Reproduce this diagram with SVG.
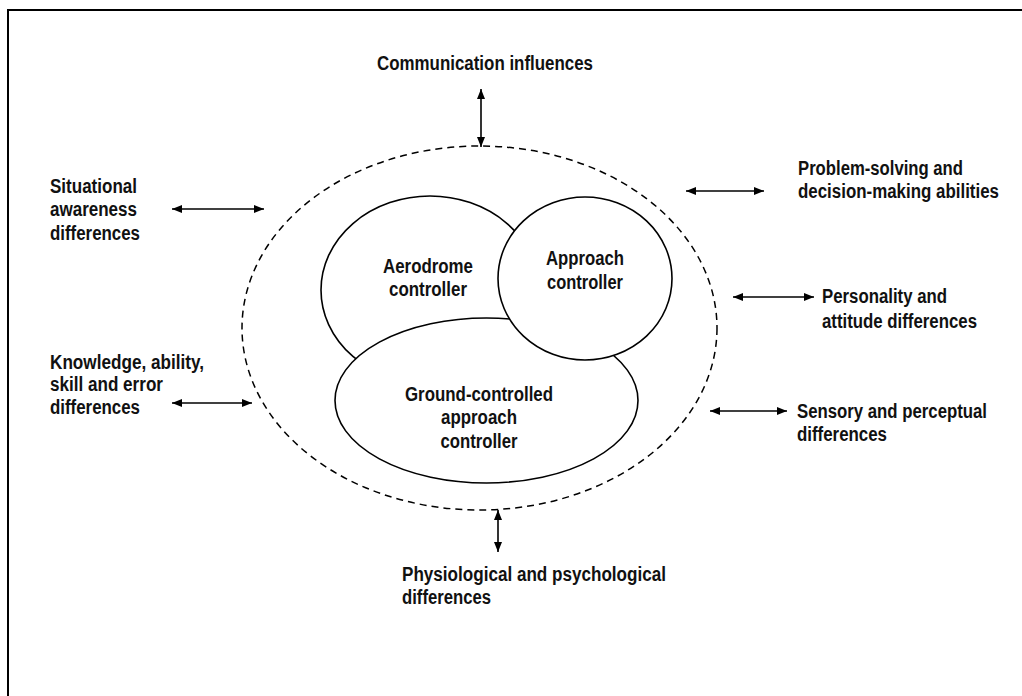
<svg xmlns="http://www.w3.org/2000/svg" width="1022" height="696" viewBox="0 0 1022 696">
<style>
text{font-family:"Liberation Sans",Arial,sans-serif;font-weight:bold;font-size:20px;fill:#111}
.c{text-anchor:middle}
.shape{fill:#fff;stroke:#000;stroke-width:1.6}
.dash{fill:none;stroke:#000;stroke-width:1.5;stroke-dasharray:7 5}
.arr{stroke:#000;stroke-width:1.6;fill:none;marker-start:url(#ah);marker-end:url(#ah)}
</style>
<defs>
<marker id="ah" viewBox="0 0 10 8" refX="10" refY="4" markerWidth="10" markerHeight="8" markerUnits="userSpaceOnUse" orient="auto-start-reverse">
<path d="M0,0 L10,4 L0,8 Z" fill="#000"/>
</marker>
</defs>
<rect x="8" y="10" width="1030" height="700" fill="#fff" stroke="#000" stroke-width="2"/>
<g id="boundary">
<ellipse class="dash" cx="479.5" cy="328" rx="237.5" ry="182"/>
</g>
<g id="aerodrome">
<ellipse class="shape" cx="430" cy="290" rx="109" ry="94"/>
<text class="c" x="428" y="273" textLength="90" lengthAdjust="spacingAndGlyphs">Aerodrome</text>
<text class="c" x="428" y="296" textLength="78" lengthAdjust="spacingAndGlyphs">controller</text>
</g>
<g id="gca">
<ellipse class="shape" cx="486.5" cy="400.5" rx="151.5" ry="82.5"/>
<text class="c" x="479" y="401" textLength="148" lengthAdjust="spacingAndGlyphs">Ground-controlled</text>
<text class="c" x="479" y="424" textLength="76" lengthAdjust="spacingAndGlyphs">approach</text>
<text class="c" x="479" y="448" textLength="77" lengthAdjust="spacingAndGlyphs">controller</text>
</g>
<g id="approach">
<ellipse class="shape" cx="585" cy="278.5" rx="87" ry="81.5"/>
<text class="c" x="585" y="265" textLength="78" lengthAdjust="spacingAndGlyphs">Approach</text>
<text class="c" x="585" y="289" textLength="76" lengthAdjust="spacingAndGlyphs">controller</text>
</g>
<g id="connectors">
<line class="arr" x1="481" y1="89" x2="481" y2="147"/>
<line class="arr" x1="498" y1="510" x2="498" y2="552"/>
<line class="arr" x1="172" y1="209" x2="264" y2="209"/>
<line class="arr" x1="172" y1="403" x2="252" y2="403"/>
<line class="arr" x1="686" y1="191" x2="764" y2="191"/>
<line class="arr" x1="733" y1="297" x2="814" y2="297"/>
<line class="arr" x1="710" y1="411" x2="787" y2="411"/>
</g>
<g id="communication">
<text x="377" y="70" textLength="216" lengthAdjust="spacingAndGlyphs">Communication influences</text>
</g>
<g id="situational">
<text x="50" y="193" textLength="87" lengthAdjust="spacingAndGlyphs">Situational</text>
<text x="50" y="216" textLength="87" lengthAdjust="spacingAndGlyphs">awareness</text>
<text x="50" y="240" textLength="90" lengthAdjust="spacingAndGlyphs">differences</text>
</g>
<g id="knowledge">
<text x="50" y="369" textLength="154" lengthAdjust="spacingAndGlyphs">Knowledge, ability,</text>
<text x="50" y="391" textLength="113" lengthAdjust="spacingAndGlyphs">skill and error</text>
<text x="50" y="414" textLength="90" lengthAdjust="spacingAndGlyphs">differences</text>
</g>
<g id="problem">
<text x="798" y="175" textLength="165" lengthAdjust="spacingAndGlyphs">Problem-solving and</text>
<text x="798" y="198" textLength="201" lengthAdjust="spacingAndGlyphs">decision-making abilities</text>
</g>
<g id="personality">
<text x="822" y="303" textLength="125" lengthAdjust="spacingAndGlyphs">Personality and</text>
<text x="822" y="328" textLength="155" lengthAdjust="spacingAndGlyphs">attitude differences</text>
</g>
<g id="sensory">
<text x="797" y="418" textLength="190" lengthAdjust="spacingAndGlyphs">Sensory and perceptual</text>
<text x="797" y="441" textLength="90" lengthAdjust="spacingAndGlyphs">differences</text>
</g>
<g id="physiological">
<text x="402" y="581" textLength="264" lengthAdjust="spacingAndGlyphs">Physiological and psychological</text>
<text x="402" y="604" textLength="89" lengthAdjust="spacingAndGlyphs">differences</text>
</g>
</svg>
